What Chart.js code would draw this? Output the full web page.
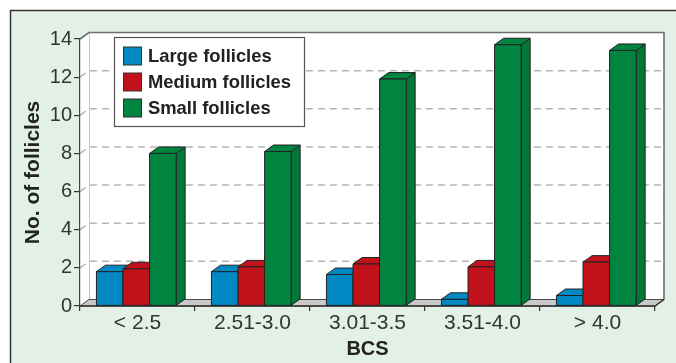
<!DOCTYPE html>
<html>
<head>
<meta charset="utf-8">
<script src="https://cdn.jsdelivr.net/npm/chart.js@4/dist/chart.umd.min.js"></script>
<style>
  html, body { margin: 0; padding: 0; background: #ffffff; }
  canvas { display: block; }
</style>
</head>
<body>
<canvas id="c" width="676" height="363"></canvas>
<script>
// ---- data ----
const categories = ['< 2.5', '2.51-3.0', '3.01-3.5', '3.51-4.0', '> 4.0'];
const largeFollicles  = [1.8, 1.8, 1.65, 0.35, 0.55];
const mediumFollicles = [1.95, 2.05, 2.2, 2.05, 2.3];
const smallFollicles  = [8.0, 8.1, 11.9, 13.7, 13.4];
const seriesLabels = ['Large follicles', 'Medium follicles', 'Small follicles'];
const yTicks = [0, 2, 4, 6, 8, 10, 12, 14];

// ---- style ----
const COLORS = ['#0089c3', '#c1121c', '#00843f'];
const SIDE = ['#007cb2', '#ad0f18', '#007838'];
const DX = 9, DY = 6.5;
const FONT = "'Liberation Sans', Arial, Helvetica, sans-serif";
Chart.defaults.font.family = FONT;

const threeD = {
  id: 'threeD',
  beforeDraw(chart) {
    const ctx = chart.ctx;
    const {left, right, top, bottom} = chart.chartArea;
    ctx.save();
    ctx.fillStyle = '#ffffff';
    ctx.fillRect(0, 0, chart.width, chart.height);
    ctx.fillStyle = '#e2f0e6';
    ctx.fillRect(10, 10, chart.width, chart.height);
    ctx.strokeStyle = '#333';
    ctx.lineWidth = 1.5;
    ctx.beginPath();
    ctx.moveTo(10.5, chart.height + 2);
    ctx.lineTo(10.5, 10.5);
    ctx.lineTo(chart.width + 2, 10.5);
    ctx.stroke();

    ctx.fillStyle = '#ffffff';
    ctx.beginPath();
    ctx.moveTo(left, top);
    ctx.lineTo(left + DX, top - DY);
    ctx.lineTo(right + DX, top - DY);
    ctx.lineTo(right + DX, bottom - DY);
    ctx.lineTo(right, bottom);
    ctx.lineTo(left, bottom);
    ctx.closePath();
    ctx.fill();

    const ys = chart.scales.y;
    ctx.strokeStyle = '#b4b4b4';
    ctx.lineWidth = 1.5;
    ctx.setLineDash([7, 5]);
    yTicks.forEach(v => {
      if (v === 0 || v === 14) return;
      const py = ys.getPixelForValue(v);
      ctx.beginPath();
      ctx.moveTo(left, py);
      ctx.lineTo(left + DX, py - DY);
      ctx.lineTo(right + DX, py - DY);
      ctx.stroke();
    });
    ctx.setLineDash([]);

    ctx.strokeStyle = '#c4c4c4';
    ctx.lineWidth = 1;
    ctx.beginPath();
    ctx.moveTo(left + DX + 0.5, top - DY);
    ctx.lineTo(left + DX + 0.5, bottom - DY);
    ctx.stroke();

    ctx.strokeStyle = '#6e6e6e';
    ctx.lineWidth = 1.6;
    ctx.beginPath();
    ctx.moveTo(left, top);
    ctx.lineTo(left + DX, top - DY);
    ctx.lineTo(right + DX, top - DY);
    ctx.lineTo(right + DX, bottom - DY);
    ctx.stroke();

    ctx.fillStyle = '#c9c9c9';
    ctx.strokeStyle = '#4a4a4a';
    ctx.lineWidth = 1;
    ctx.beginPath();
    ctx.moveTo(left, bottom);
    ctx.lineTo(left + DX, bottom - DY);
    ctx.lineTo(right + DX, bottom - DY);
    ctx.lineTo(right, bottom);
    ctx.closePath();
    ctx.fill();
    ctx.stroke();
    ctx.strokeStyle = '#333';
    ctx.lineWidth = 1.5;
    ctx.beginPath();
    ctx.moveTo(left, bottom);
    ctx.lineTo(right, bottom);
    ctx.lineTo(right + DX, bottom - DY);
    ctx.stroke();
    ctx.restore();
  },
  beforeDatasetsDraw(chart) {
    const ctx = chart.ctx;
    ctx.save();
    ctx.lineWidth = 1;
    ctx.strokeStyle = '#222';
    ctx.lineJoin = 'round';
    const n = chart.data.labels.length;
    for (let i = 0; i < n; i++) {
      chart.data.datasets.forEach((ds, d) => {
        const el = chart.getDatasetMeta(d).data[i];
        const {x, y, base, width} = el.getProps(['x', 'y', 'base', 'width'], true);
        const l = x - width / 2 - 1.2, r = x + width / 2 - 1.2;
        ctx.fillStyle = SIDE[d];
        ctx.beginPath();
        ctx.moveTo(r, y);
        ctx.lineTo(r + DX, y - DY);
        ctx.lineTo(r + DX, base - DY);
        ctx.lineTo(r, base);
        ctx.closePath();
        ctx.fill(); ctx.stroke();
        ctx.fillStyle = ds.backgroundColor;
        ctx.beginPath();
        ctx.moveTo(l, y);
        ctx.lineTo(l + DX, y - DY);
        ctx.lineTo(r + DX, y - DY);
        ctx.lineTo(r, y);
        ctx.closePath();
        ctx.fill(); ctx.stroke();
        ctx.fillStyle = ds.backgroundColor;
        ctx.fillRect(l, y, width, base - y);
        ctx.strokeRect(l, y, width, base - y);
      });
    }
    ctx.restore();
    return false;
  },
  afterDraw(chart) {
    const ctx = chart.ctx;
    ctx.save();
    ctx.fillStyle = '#ffffff';
    ctx.strokeStyle = '#555';
    ctx.lineWidth = 1.2;
    ctx.fillRect(114.5, 37.5, 190, 89);
    ctx.strokeRect(114.5, 37.5, 190, 89);
    ctx.font = "bold 18.4px " + FONT;
    ctx.textBaseline = 'middle';
    ctx.textAlign = 'left';
    chart.data.datasets.forEach((ds, d) => {
      const cy = 56 + d * 26;
      ctx.fillStyle = ds.backgroundColor;
      ctx.strokeStyle = '#333';
      ctx.lineWidth = 1;
      ctx.fillRect(123.5, cy - 9, 18, 18);
      ctx.strokeRect(123.5, cy - 9, 18, 18);
      ctx.fillStyle = '#222';
      ctx.fillText(ds.label, 148, cy + 1);
    });
    ctx.restore();
  }
};

new Chart(document.getElementById('c'), {
  type: 'bar',
  data: {
    labels: categories,
    datasets: [
      { label: seriesLabels[0], data: largeFollicles,  backgroundColor: COLORS[0] },
      { label: seriesLabels[1], data: mediumFollicles, backgroundColor: COLORS[1] },
      { label: seriesLabels[2], data: smallFollicles,  backgroundColor: COLORS[2] }
    ]
  },
  options: {
    responsive: false,
    animation: false,
    devicePixelRatio: 1,
    layout: { padding: { left: 0, right: 21, top: 39, bottom: 0 } },
    datasets: { bar: { categoryPercentage: 0.693, barPercentage: 1 } },
    plugins: { legend: { display: false }, tooltip: { enabled: false } },
    scales: {
      x: {
        offset: true,
        grid: { offset: true, drawOnChartArea: false, drawTicks: true, tickLength: 5, color: '#333', lineWidth: 1.2 },
        border: { display: false },
        ticks: { font: { size: 21 }, color: '#333', padding: 0, maxRotation: 0, autoSkip: false },
        title: { display: true, text: 'BCS', font: { size: 20, weight: 'bold' }, color: '#222', padding: { top: 0, bottom: 2 } },
        afterFit(s) { s.height = 57; }
      },
      y: {
        min: 0, max: 14,
        afterBuildTicks(s) { s.ticks = yTicks.map(v => ({ value: v })); },
        grid: { drawOnChartArea: false, drawTicks: true, tickLength: 6, color: '#333', lineWidth: 1.2 },
        border: { display: true, color: '#444', width: 1.2 },
        ticks: { font: { size: 20 }, color: '#333', padding: 2 },
        title: { display: true, text: 'No. of follicles', font: { size: 21, weight: 'bold' }, color: '#222', padding: { top: 21, bottom: 0 } },
        afterFit(s) { s.width = 80; }
      }
    }
  },
  plugins: [threeD]
});
</script>
</body>
</html>
